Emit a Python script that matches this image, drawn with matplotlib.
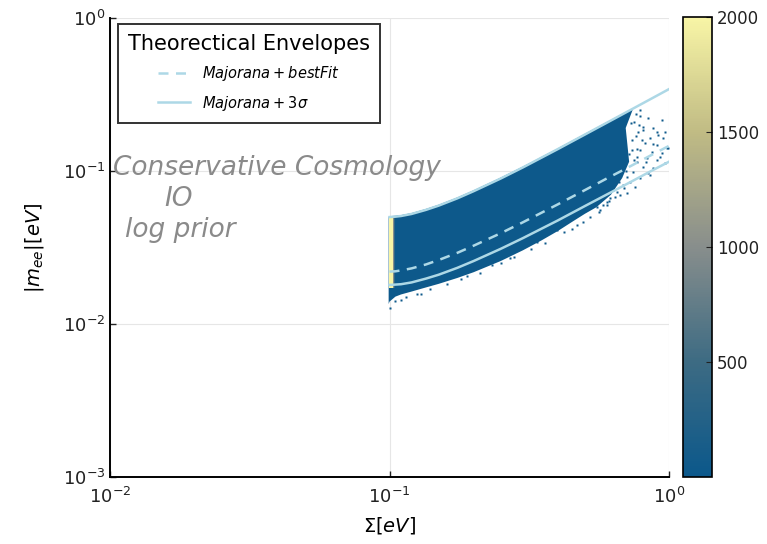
import numpy as np
import matplotlib
matplotlib.use("Agg")
import matplotlib.pyplot as plt
from matplotlib.colors import LinearSegmentedColormap, Normalize
from matplotlib.cm import ScalarMappable

# ---------------- data ----------------
# theoretical envelopes
env_sigma = [0.1, 0.105, 0.11, 0.12, 0.135, 0.15, 0.175, 0.2, 0.25, 0.3,
             0.4, 0.5, 0.6, 0.7, 0.85, 1.0]
env_upper_3s = [0.0500, 0.0503, 0.0508, 0.0524, 0.0557, 0.0594, 0.0663, 0.0738, 0.0893, 0.1055,
                0.139, 0.173, 0.207, 0.241, 0.292, 0.343]
env_lower_3s = [0.0180, 0.0181, 0.0182, 0.0187, 0.0198, 0.0210, 0.0233, 0.0258, 0.0310, 0.0364,
                0.0475, 0.0590, 0.0703, 0.0815, 0.0985, 0.1150]
env_bestfit = [0.0220, 0.0221, 0.0224, 0.0231, 0.0245, 0.0262, 0.0292, 0.0325, 0.0392, 0.0462,
               0.0605, 0.0750, 0.0895, 0.1035, 0.1250, 0.1460]

# dense part of the sample cloud (outline)
cloud_top_sigma = [0.0993, 0.1, 0.105, 0.11, 0.12, 0.135, 0.15, 0.175, 0.2, 0.25, 0.3,
                   0.4, 0.5, 0.6, 0.7, 0.743]
cloud_top_mee = [0.0500, 0.0507, 0.0510, 0.0515, 0.0531, 0.0565, 0.0602, 0.0672, 0.0748, 0.0905, 0.1068,
                 0.1405, 0.1750, 0.2090, 0.2430, 0.2540]
cloud_right_sigma = [0.70, 0.71, 0.72, 0.68, 0.62, 0.55]
cloud_right_mee = [0.191, 0.148, 0.115, 0.090, 0.070, 0.058]
cloud_bottom_sigma = [0.5, 0.45, 0.4, 0.35, 0.3, 0.25, 0.2, 0.175, 0.15, 0.13, 0.12, 0.11,
                      0.105, 0.1, 0.0993]
cloud_bottom_mee = [0.0525, 0.0465, 0.0405, 0.0352, 0.0303, 0.0258, 0.0218, 0.0200, 0.0183, 0.0170,
                    0.0163, 0.0156, 0.0151, 0.0140, 0.0135]

# sparse samples at large Sigma and along the lower edge
sparse_sigma = [0.787, 0.843, 0.942, 0.809, 0.879, 0.776, 0.916, 0.855, 0.955, 0.820,
                0.904, 0.982, 0.787, 0.867, 0.942, 0.832, 0.904, 0.766, 0.968, 0.809,
                0.879, 0.745, 0.843, 0.787, 0.724, 0.687, 0.755, 0.650, 0.705, 0.615,
                0.668, 0.551, 0.598, 0.566, 0.904, 0.968, 0.990, 0.930, 0.855, 0.766,
                0.735, 0.75, 0.76, 0.74, 0.78, 0.72, 0.70, 0.66, 0.63, 0.80, 0.77,
                0.76, 0.79, 0.73, 0.81, 0.75, 0.71, 0.69, 0.64, 0.61, 0.58, 0.83, 0.88,
                0.232, 0.337, 0.494, 0.396, 0.18, 0.27, 0.45, 0.13, 0.11,
                0.100, 0.105, 0.115, 0.125, 0.14, 0.16, 0.19, 0.21, 0.25, 0.28,
                0.32, 0.36, 0.42, 0.47, 0.52, 0.56, 0.60]
sparse_mee = [0.250, 0.221, 0.216, 0.195, 0.190, 0.181, 0.172, 0.164, 0.164, 0.152,
              0.148, 0.141, 0.137, 0.134, 0.131, 0.121, 0.118, 0.115, 0.112, 0.107,
              0.104, 0.099, 0.0966, 0.0896, 0.0851, 0.0810, 0.0790, 0.0733, 0.0715, 0.0663,
              0.0697, 0.0585, 0.0631, 0.0556, 0.181, 0.181, 0.141, 0.124, 0.0942, 0.124,
              0.137, 0.21, 0.17, 0.16, 0.20, 0.13, 0.10, 0.085, 0.075, 0.16, 0.14,
              0.235, 0.228, 0.205, 0.185, 0.118, 0.092, 0.078, 0.068, 0.064, 0.060, 0.115, 0.150,
              0.0243, 0.0345, 0.0467, 0.0411, 0.0198, 0.0268, 0.0420, 0.0158, 0.0143,
              0.0128, 0.0142, 0.0150, 0.0158, 0.0170, 0.0182, 0.0205, 0.0216, 0.0250, 0.0275,
              0.0308, 0.0340, 0.0398, 0.0445, 0.0498, 0.0540, 0.0595]

# high-density strip at the minimal Sigma (count levels)
strip_edges = [0.0993, 0.1027, 0.1037, 0.1050]
strip_counts = [2000, 1000, 400]
strip_mee_low = 0.0172
strip_mee_high = 0.050
cloud_count = 20

cbar_ticks = [500, 1000, 1500, 2000]
count_min, count_max = 1, 2000

annot_lines = ["Conservative Cosmology", "IO", "log prior"]

# ---------------- style ----------------
cmap = LinearSegmentedColormap.from_list(
    "envcmap",
    [(0.0, "#0b588b"), (0.25, "#3d6b83"), (0.5, "#888e8c"),
     (0.75, "#c0bb84"), (1.0, "#f8f5a6")])
norm = Normalize(vmin=count_min, vmax=count_max)
line_col = "#add8e6"

fig = plt.figure(figsize=(7.67, 5.44), dpi=100)
ax = fig.add_axes([110 / 767, 1 - 477 / 544, 559 / 767, 459 / 544])
cax = fig.add_axes([683 / 767, 1 - 477 / 544, 29 / 767, 460 / 544])

ax.set_xscale("log")
ax.set_yscale("log")
ax.set_xlim(1e-2, 1)
ax.set_ylim(1e-3, 1)

cloud_col = cmap(norm(cloud_count))
poly_x = cloud_top_sigma + cloud_right_sigma + cloud_bottom_sigma
poly_y = cloud_top_mee + cloud_right_mee + cloud_bottom_mee
ax.fill(poly_x, poly_y, color=cloud_col, lw=0, zorder=2)
ax.plot(sparse_sigma, sparse_mee, ls="none", marker="s", ms=1.9,
        mec="none", mfc=cloud_col, zorder=2)

for i, c in enumerate(strip_counts):
    ax.fill_between([strip_edges[i], strip_edges[i + 1]], strip_mee_low, strip_mee_high,
                    color=cmap(norm(c)), lw=0, zorder=2.5)

ax.plot(env_sigma, env_bestfit, color=line_col, lw=1.8, ls=(0, (4, 3)), zorder=3,
        label=r"$Majorana + bestFit$")
ax.plot(env_sigma, env_upper_3s, color=line_col, lw=1.8, zorder=3,
        label=r"$Majorana + 3\sigma$")
ax.plot(env_sigma, env_lower_3s, color=line_col, lw=1.8, zorder=3)

ax.grid(True, which="major", color="#e6e6e6", lw=0.8, zorder=0)
ax.minorticks_off()
for s in ["top", "right"]:
    ax.spines[s].set_visible(False)
for s in ["left", "bottom"]:
    ax.spines[s].set_linewidth(1.4)
ax.tick_params(direction="in", length=4, width=1, labelsize=13, colors="#222222")
ax.tick_params(axis="x", pad=7)
ax.set_xlabel(r"$\Sigma[eV]$", fontsize=14, labelpad=6)
ax.set_ylabel(r"$|m_{ee}|[eV]$", fontsize=14, labelpad=12)

txt_kw = dict(fontsize=19, style="italic", color="#8a8a8a", ha="center",
              va="center", zorder=4)
ax.text(0.298, 1 - (168 - 18) / 459, annot_lines[0], transform=ax.transAxes, **txt_kw)
ax.text(0.122, 1 - (199 - 18) / 459, annot_lines[1], transform=ax.transAxes, **txt_kw)
ax.text(0.125, 1 - (230 - 18) / 459, annot_lines[2], transform=ax.transAxes, **txt_kw)

leg = ax.legend(loc="upper left", bbox_to_anchor=(0.0143, 0.987), borderaxespad=0,
                title="Theorectical Envelopes", title_fontsize=15, fontsize=10.5,
                fancybox=False, frameon=True, handlelength=2.2, borderpad=0.7,
                labelspacing=0.7, alignment="center")
leg.get_frame().set_edgecolor("black")
leg.get_frame().set_linewidth(1.4)
leg.set_zorder(5)

sm = ScalarMappable(norm=norm, cmap=cmap)
cb = fig.colorbar(sm, cax=cax)
cb.set_ticks(cbar_ticks)
cb.ax.tick_params(labelsize=12, direction="in", length=4, colors="#222222")
cb.outline.set_linewidth(1.2)

fig.savefig("out.png", dpi=100)
